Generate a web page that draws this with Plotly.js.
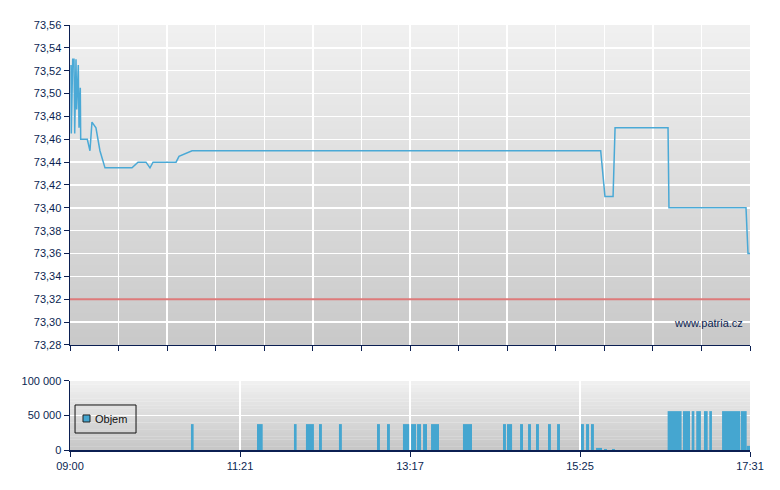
<!DOCTYPE html>
<html>
<head>
<meta charset="utf-8">
<script src="https://cdn.plot.ly/plotly-3.0.1.min.js"></script>
<style>html,body{margin:0;padding:0;background:#fff;}#chart{width:780px;height:490px;}</style>
</head>
<body>
<div id="chart"></div>
<script>
// Session position (pseudo-minutes from open, axis is evenly labelled)
const sessionLength = 511;
const timeLabels = ['09:00', '11:21', '13:17', '15:25', '17:31'];

// Price series
const priceX = [0.75, 0.98, 2.03, 3.01, 3.53, 4.51, 5.03, 6.24, 6.76, 7.74, 8.04, 13.0, 15.0, 16.5, 19.5, 22.5, 26.3, 46.6, 51.1, 57.1, 60.1, 62.4, 79.7, 81.9, 91.7, 398.8, 402.0, 408.1, 409.6, 449.4, 450.1, 508.0, 509.5, 511];
const priceY = [73.525, 73.465, 73.53, 73.53, 73.465, 73.53, 73.486, 73.525, 73.47, 73.505, 73.46, 73.46, 73.45, 73.475, 73.47, 73.45, 73.435, 73.435, 73.44, 73.44, 73.435, 73.44, 73.44, 73.445, 73.45, 73.45, 73.41, 73.41, 73.47, 73.47, 73.40, 73.40, 73.36, 73.36];

// Previous close
const prevClose = 73.32;

// Volume series: start of interval, duration, volume
const volumeName = 'Objem';
const volStart = [90.9, 140.5, 168.3, 177.3, 187.1, 202.1, 230.7, 238.2, 250.2, 256.3, 260.8, 265.3, 271.3, 295.3, 325.4, 328.4, 338.2, 344.2, 350.2, 359.2, 366.0, 384.0, 387.8, 391.5, 395.3, 401.3, 407.3, 449.1, 460.6, 467.2, 470.6, 476.4, 480.4, 490.0, 504.0, 508.5];
const volDur   = [2, 4.3, 2, 6, 2.2, 2.2, 2.2, 2.2, 4.7, 3.8, 3, 3, 6, 6.8, 2.2, 3.8, 2.2, 2.2, 2.2, 2.2, 2.2, 2.2, 2.2, 2.2, 4.5, 2.2, 2.2, 10.5, 5.3, 2, 3.5, 2.8, 2, 13.5, 4.5, 2.5];
const volVal   = [37500, 37500, 37500, 37500, 37500, 37500, 37500, 37500, 37500, 37500, 37500, 37500, 37500, 37500, 37500, 37500, 37500, 37500, 37500, 37500, 37500, 37500, 37500, 37500, 3000, 1500, 1500, 56300, 56300, 56300, 56300, 56300, 56300, 56300, 56300, 6000];

const navy = '#0b1f52';
const barColor = '#45a6d0';
const topTicks = Array.from({length: 15}, (_, i) => i * sessionLength / 14);
const bottomTicks = timeLabels.map((_, i) => i * sessionLength / (timeLabels.length - 1));

function gradientBands(yref, top, bottom, n) {
  const shapes = [];
  const c = (a, b, t) => Math.round(a + (b - a) * t);
  for (let i = 0; i < n; i++) {
    const t = (i + 0.5) / n;
    const v = c(top, bottom, t);
    shapes.push({type: 'rect', layer: 'below', xref: 'paper', yref: yref,
      x0: 0, x1: 1, y0: 1 - i / n, y1: 1 - (i + 1) / n - 0.002,
      line: {width: 0}, fillcolor: `rgb(${v},${v},${v})`});
  }
  return shapes;
}

const traces = [
  {type: 'scatter', mode: 'lines', x: [0, sessionLength], y: [prevClose, prevClose],
   xaxis: 'x', yaxis: 'y', line: {color: '#de7a7a', width: 2}, showlegend: false, hoverinfo: 'skip'},
  {type: 'scatter', mode: 'lines', x: priceX, y: priceY, xaxis: 'x', yaxis: 'y',
   line: {color: '#4aa9d6', width: 1.5}, showlegend: false, hoverinfo: 'skip'},
  {type: 'bar', name: volumeName, x: volStart, y: volVal, width: volDur, offset: 0,
   xaxis: 'x2', yaxis: 'y2', marker: {color: barColor, line: {width: 0}}, hoverinfo: 'skip', showlegend: false}
];

const axisCommon = {showline: true, linecolor: navy, linewidth: 1.5, ticks: 'outside', ticklen: 5,
  tickcolor: navy, tickwidth: 1, zeroline: false, fixedrange: true, gridcolor: '#ffffff', gridwidth: 1.5,
  tickfont: {color: navy, size: 11}};

// Legend box drawn in paper space (bottom panel)
const legendShapes = [
  {type: 'rect', layer: 'above', xref: 'paper', yref: 'paper', x0: 0.0074, x1: 0.0971, y0: 0.040, y1: 0.1059,
   line: {color: '#111111', width: 1}, fillcolor: 'rgba(0,0,0,0)'},
  {type: 'rect', layer: 'above', xref: 'paper', yref: 'paper', x0: 0.0191, x1: 0.0294, y0: 0.0659, y1: 0.0824,
   line: {color: '#222222', width: 1}, fillcolor: barColor}
];

const layout = {
  width: 780, height: 490,
  margin: {l: 70, r: 30, t: 25, b: 40},
  paper_bgcolor: '#ffffff', plot_bgcolor: 'rgba(0,0,0,0)',
  separators: ', ',
  font: {family: 'Liberation Sans, Arial, sans-serif', size: 11, color: navy},
  showlegend: false,
  xaxis: Object.assign({}, axisCommon, {anchor: 'y', domain: [0, 1], range: [0, sessionLength],
    tickmode: 'array', tickvals: topTicks, showticklabels: false, showgrid: true}),
  yaxis: Object.assign({}, axisCommon, {anchor: 'x', domain: [0.2471, 1], range: [73.28, 73.56],
    tick0: 73.28, dtick: 0.02, tickformat: '.2f', showgrid: true}),
  xaxis2: Object.assign({}, axisCommon, {anchor: 'y2', domain: [0, 1], range: [0, sessionLength],
    tickmode: 'array', tickvals: bottomTicks, ticktext: timeLabels, showgrid: true}),
  yaxis2: Object.assign({}, axisCommon, {anchor: 'x2', domain: [0, 0.1624], range: [0, 100000],
    tickmode: 'array', tickvals: [0, 50000, 100000], tickformat: ',d', showgrid: true}),
  shapes: gradientBands('y domain', 240, 200, 40).concat(gradientBands('y2 domain', 241, 198, 20), legendShapes),
  annotations: [
    {text: 'www.patria.cz', xref: 'paper', yref: 'paper', x: 0.993, y: 0.2988,
     xanchor: 'right', yanchor: 'middle', showarrow: false, font: {size: 11, color: navy}},
    {text: volumeName, xref: 'paper', yref: 'paper', x: 0.0345, y: 0.0735,
     xanchor: 'left', yanchor: 'middle', showarrow: false, font: {size: 11, color: '#111111'}}
  ]
};

Plotly.newPlot('chart', traces, layout, {staticPlot: true, displayModeBar: false});
</script>
</body>
</html>
